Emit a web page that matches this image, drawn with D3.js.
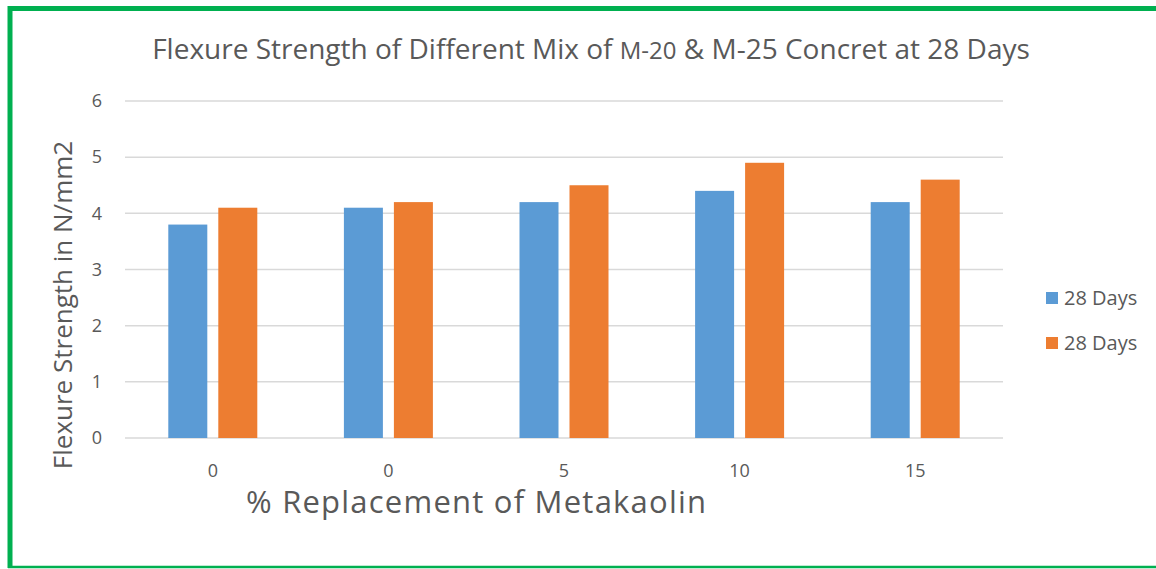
<!DOCTYPE html>
<html>
<head>
<meta charset="utf-8">
<script src="https://cdnjs.cloudflare.com/ajax/libs/d3/7.8.5/d3.min.js"></script>
<style>
  body { margin: 0; background: #fff; }
  svg text { font-family: "Open Sans", "Noto Sans", sans-serif; fill: #595959; }
</style>
</head>
<body>
<div id="chart"></div>
<script>
// values
var categories = ["0", "0b", "5", "10", "15"];
var categoryLabels = ["0", "0", "5", "10", "15"];
var seriesNames = ["28 Days", "28 Days"];
var blueValues = [3.8, 4.1, 4.2, 4.4, 4.2];
var orangeValues = [4.1, 4.2, 4.5, 4.9, 4.6];
var yTicks = [0, 1, 2, 3, 4, 5, 6];
var colors = ["#5b9bd5", "#ed7d31"];

var width = 1156, height = 569;
var margin = {top: 101, right: 153, bottom: 131, left: 125};

var svg = d3.select("#chart").append("svg")
    .attr("width", width)
    .attr("height", height);

// green frame
svg.append("path")
    .attr("d", "M10,568 L10,8.5 L1160,8.5")
    .attr("fill", "none")
    .attr("stroke", "#00b050")
    .attr("stroke-width", 5);
svg.append("line")
    .attr("x1", 8).attr("x2", 1160)
    .attr("y1", 567).attr("y2", 567)
    .attr("stroke", "#00b050")
    .attr("stroke-width", 2.5);

var x = d3.scaleBand()
    .domain(categories)
    .range([margin.left, width - margin.right]);

var y = d3.scaleLinear()
    .domain([0, 6])
    .range([height - margin.bottom, margin.top]);

// gridlines
svg.selectAll("line.grid")
    .data(yTicks)
    .enter()
    .append("line")
    .attr("class", "grid")
    .attr("x1", margin.left)
    .attr("x2", width - margin.right)
    .attr("y1", function (d) { return y(d); })
    .attr("y2", function (d) { return y(d); })
    .attr("stroke", "#d9d9d9")
    .attr("stroke-width", 1.5);

// y tick labels
svg.selectAll("text.ytick")
    .data(yTicks)
    .enter()
    .append("text")
    .attr("class", "ytick")
    .attr("x", 102)
    .attr("y", function (d) { return y(d); })
    .attr("dy", "0.35em")
    .attr("text-anchor", "end")
    .style("font-size", "18px")
    .text(function (d) { return d; });

// bars
var barW = 39, gap = 11;
var series = [blueValues, orangeValues];
series.forEach(function (vals, s) {
    svg.selectAll("rect.s" + s)
        .data(vals)
        .enter()
        .append("rect")
        .attr("class", "s" + s)
        .attr("x", function (d, i) {
            var c = x(categories[i]) + x.bandwidth() / 2;
            return s == 0 ? c - gap / 2 - barW : c + gap / 2;
        })
        .attr("y", function (d) { return y(d); })
        .attr("width", barW)
        .attr("height", function (d) { return y(0) - y(d); })
        .attr("fill", colors[s]);
});

// x tick labels
svg.selectAll("text.xtick")
    .data(categories)
    .enter()
    .append("text")
    .attr("class", "xtick")
    .attr("x", function (d) { return x(d) + x.bandwidth() / 2; })
    .attr("y", 477)
    .attr("text-anchor", "middle")
    .style("font-size", "18px")
    .text(function (d, i) { return categoryLabels[i]; });

// title
var title = svg.append("text")
    .attr("x", 591)
    .attr("y", 59)
    .attr("text-anchor", "middle")
    .style("font-size", "28px");
title.append("tspan").text("Flexure Strength of Different Mix of ");
title.append("tspan").style("font-size", "24px").text("M-20");
title.append("tspan").text(" & M-25 Concret at 28 Days");

// axis titles
svg.append("text")
    .attr("transform", "translate(72,305) rotate(-90)")
    .attr("text-anchor", "middle")
    .style("font-size", "26px")
    .text("Flexure Strength in N/mm2");

svg.append("text")
    .attr("x", 476)
    .attr("y", 513)
    .attr("text-anchor", "middle")
    .attr("textLength", 460)
    .attr("lengthAdjust", "spacing")
    .style("font-size", "31px")
    .text("% Replacement of Metakaolin");

// legend
var legend = svg.selectAll("g.legend")
    .data(seriesNames)
    .enter()
    .append("g")
    .attr("class", "legend")
    .attr("transform", function (d, i) { return "translate(1046," + (292 + i * 45) + ")"; });

legend.append("rect")
    .attr("width", 12)
    .attr("height", 12)
    .attr("fill", function (d, i) { return colors[i]; });

legend.append("text")
    .attr("x", 18)
    .attr("y", 6)
    .attr("dy", "0.35em")
    .style("font-size", "20px")
    .text(function (d) { return d; });
</script>
</body>
</html>
